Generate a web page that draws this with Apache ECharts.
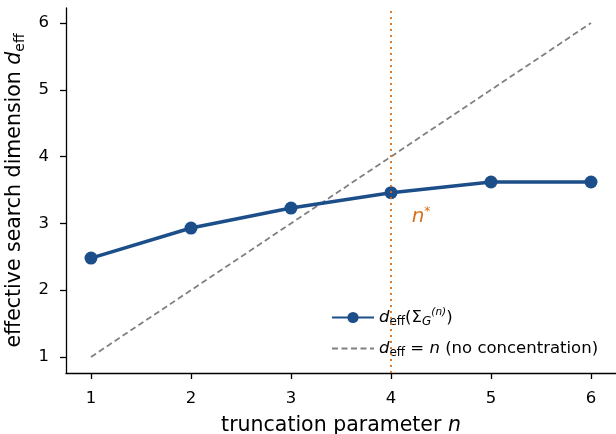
<!DOCTYPE html>
<html>
<head>
<meta charset="utf-8">
<script src="https://cdn.jsdelivr.net/npm/echarts@6/dist/echarts.min.js"></script>
<style>
  html, body { margin: 0; padding: 0; background: #fff; }
  #chart { width: 616px; height: 434px; }
</style>
</head>
<body>
<div id="chart"></div>
<script>
// truncation parameter n vs effective search dimension
const nValues = [1, 2, 3, 4, 5, 6];
const deff = [2.48, 2.93, 3.23, 3.46, 3.62, 3.62];
const noConc = [1, 2, 3, 4, 5, 6];
const xTicks = [1, 2, 3, 4, 5, 6];
const yTicks = [1, 2, 3, 4, 5, 6];
const nStar = 4;

const FONT = 'DejaVu Sans';
const BLUE = '#1c4e8a';
const ORANGE = '#d9711c';
const GRAY = '#808080';

const chart = echarts.init(document.getElementById('chart'));

const itStyle = { fontFamily: FONT, fontSize: 20.5, fontStyle: 'italic', color: '#000' };
const subStyle = { fontFamily: FONT, fontSize: 14, color: '#000', padding: [11, 0, 0, 0] };

chart.setOption({
  animation: false,
  textStyle: { fontFamily: FONT },
  grid: { left: 66, right: 0, top: 8, bottom: 61, outerBoundsMode: 'none', containLabel: false },
  xAxis: {
    type: 'value', min: 0.75, max: 6.25,
    name: 'truncation parameter {i|n}',
    nameLocation: 'middle', nameGap: 42,
    nameTextStyle: { fontFamily: FONT, fontSize: 20.5, color: '#000', rich: { i: itStyle } },
    axisLine: { lineStyle: { color: '#000', width: 1.3 } },
    axisTick: { show: true, length: 6, customValues: xTicks, lineStyle: { color: '#000', width: 1.3 } },
    axisLabel: { customValues: xTicks, fontSize: 16.5, color: '#000', margin: 17, fontFamily: FONT },
    splitLine: { show: false }
  },
  yAxis: {
    type: 'value', min: 0.76, max: 6.225,
    name: 'effective search dimension {i|d}{s|eff}',
    nameLocation: 'middle', nameGap: 32,
    nameTextStyle: { fontFamily: FONT, fontSize: 20.5, color: '#000', rich: { i: itStyle, s: subStyle } },
    axisLine: { show: true, lineStyle: { color: '#000', width: 1.3 } },
    axisTick: { show: true, length: 6, customValues: yTicks, lineStyle: { color: '#000', width: 1.3 } },
    axisLabel: { customValues: yTicks, fontSize: 16.5, color: '#000', margin: 17, fontFamily: FONT },
    splitLine: { show: false }
  },
  legend: {
    orient: 'vertical', left: 326, top: 302, itemWidth: 42, itemHeight: 14, itemGap: 12,
    textStyle: {
      fontFamily: FONT, fontSize: 16.5, color: '#000',
      rich: {
        i: { fontFamily: FONT, fontSize: 16.5, fontStyle: 'italic', color: '#000' },
        s: { fontFamily: FONT, fontSize: 12, color: '#000', padding: [9, 0, 0, 0] },
        si: { fontFamily: FONT, fontSize: 12, fontStyle: 'italic', color: '#000', padding: [9, 0, 0, 0] },
        sp: { fontFamily: FONT, fontSize: 10.5, fontStyle: 'italic', color: '#000', padding: [0, 0, 10, 0] }
      }
    },
    formatter: name => name === 'deff'
      ? '{i|d}{s|eff}(Σ{si|G}{sp|(n)})'
      : '{i|d}{s|eff} = {i|n} (no concentration)',
    data: ['deff', { name: 'noconc', itemStyle: { opacity: 0 } }]
  },
  series: [
    {
      name: 'noconc', type: 'line', symbol: 'none',
      data: nValues.map((n, i) => [n, noConc[i]]),
      lineStyle: { color: GRAY, width: 1.8, type: [6, 3.5] },
      itemStyle: { color: GRAY },
      z: 2
    },
    {
      name: 'deff', type: 'line', symbol: 'circle', symbolSize: 13,
      data: nValues.map((n, i) => [n, deff[i]]),
      lineStyle: { color: BLUE, width: 3.6 },
      itemStyle: { color: BLUE },
      z: 4,
      markLine: {
        silent: true, symbol: 'none', label: { show: false },
        lineStyle: { color: ORANGE, width: 1.8, type: [2, 4] },
        data: [{ xAxis: nStar }]
      },
      markPoint: {
        symbol: 'circle', symbolSize: 0,
        label: { show: true, position: 'inside',
          formatter: '{a|n}{b|*}',
          rich: {
            a: { fontFamily: FONT, fontSize: 20, fontStyle: 'italic', color: ORANGE },
            b: { fontFamily: FONT, fontSize: 12, color: ORANGE, padding: [0, 0, 9, 0] }
          }
        },
        data: [{ coord: [4.3, 3.1] }]
      }
    }
  ]
});
</script>
</body>
</html>
